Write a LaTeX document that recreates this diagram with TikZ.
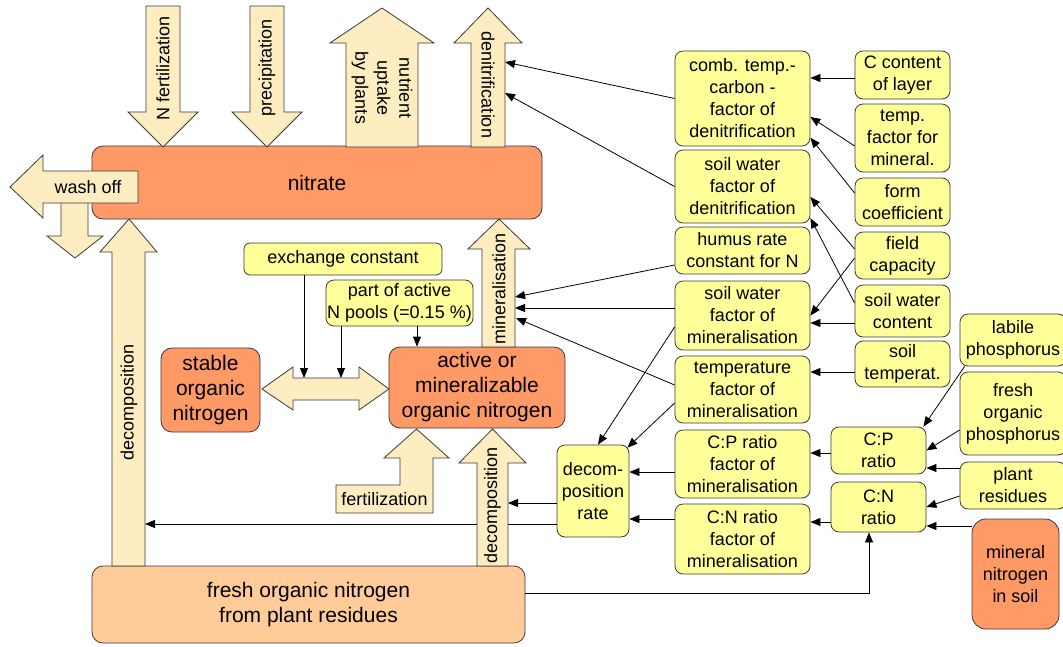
\documentclass[tikz,border=0pt]{standalone}
\usepackage{fontspec}
\setmainfont{Liberation Sans}
\usepackage{xcolor}
\usetikzlibrary{arrows.meta}
\definecolor{yfill}{HTML}{FFFF99}
\definecolor{ofill}{HTML}{FF9966}
\definecolor{ffill}{HTML}{FFCC99}
\definecolor{pfill}{HTML}{FFEDC2}
\definecolor{edge}{HTML}{3A3A3A}

\begin{document}
\begin{tikzpicture}[x=1pt,y=-1pt,
  ybox/.style={draw=edge,fill=yfill,rounded corners=8pt,align=center,inner sep=0pt,line width=0.8pt,font=\fontsize{18}{22}\selectfont},
  obox/.style={ybox,fill=ofill,rounded corners=11pt,font=\fontsize{21}{25}\selectfont},
  sz/.style 2 args={minimum width=#1pt,minimum height=#2pt},
  pipe/.style={draw=edge,fill=pfill,line width=0.8pt},
  ptxt/.style={align=center,inner sep=0pt,font=\fontsize{18}{22}\selectfont},
  arr/.style={-{Triangle[length=10pt,width=8pt]},line width=0.8pt}]
\useasboundingbox (0,0) rectangle (1063,646);
% pools
\node[obox,sz={450}{73}] (nit) at (317,182.5) {nitrate};
\node[obox,sz={99}{84}] (stab) at (210.5,390) {stable\\organic\\nitrogen};
\node[obox,sz={176}{81}] (act) at (477,387.5) {active or\\mineralizable\\organic nitrogen};
\node[obox,fill=ffill,sz={433}{77}] (fresh) at (308.5,604.5) {fresh organic nitrogen\\from plant residues};
\node[ybox,fill=ofill,rounded corners=14pt,sz={87}{110}] (minn) at (1015.5,574) {mineral\\nitrogen\\in soil};
% parameters
\node[ybox,rounded corners=6pt,sz={198}{32}] (exch) at (343,259) {exchange constant};
\node[ybox,sz={147}{46}] (part) at (399.5,303) {part of active\\N pools (=0.15 \%)};
\node[ybox,sz={72}{92}] (drate) at (593,491) {decom-\\position\\rate};
\node[ybox,sz={135}{95}] (comb) at (742.5,98.5) {comb. temp.-\\carbon -\\factor of\\denitrification};
\node[ybox,sz={135}{73}] (swfd) at (742.5,186.5) {soil water\\factor of\\denitrification};
\node[ybox,sz={135}{47}] (hum) at (742.5,250.5) {humus rate\\constant for N};
\node[ybox,sz={135}{69}] (swfm) at (742.5,315.5) {soil water\\factor of\\mineralisation};
\node[ybox,sz={135}{67}] (tfm) at (742.5,389.5) {temperature\\factor of\\mineralisation};
\node[ybox,sz={135}{68}] (cpf) at (742.5,464) {C:P ratio\\factor of\\mineralisation};
\node[ybox,sz={135}{70}] (cnf) at (742.5,539) {C:N ratio\\factor of\\mineralisation};
\node[ybox,sz={95}{48}] (ccl) at (902.5,75) {C content\\of layer};
\node[ybox,sz={95}{68}] (tfmin) at (902.5,138) {temp.\\factor for\\mineral.};
\node[ybox,sz={95}{48}] (form) at (902.5,202) {form\\coefficient};
\node[ybox,sz={95}{47}] (fcap) at (902.5,255.5) {field\\capacity};
\node[ybox,sz={95}{52}] (swc) at (902.5,311) {soil water\\content};
\node[ybox,sz={95}{46}] (stemp) at (902.5,364) {soil\\temperat.};
\node[ybox,sz={95}{47}] (cpr) at (878.5,450.5) {C:P\\ratio};
\node[ybox,sz={95}{50}] (cnr) at (878.5,507) {C:N\\ratio};
\node[ybox,sz={106}{52}] (lab) at (1013,340) {labile\\phosphorus};
\node[ybox,sz={106}{83}] (fop) at (1013,413.5) {fresh\\organic\\phosphorus};
\node[ybox,sz={106}{47}] (pres) at (1013,485.5) {plant\\residues};
% points on the flow arrows
\coordinate (dn1) at (505,62);
\coordinate (dn2) at (505,93);
\coordinate (mi1) at (515,297);
\coordinate (mi2) at (515,308);
\coordinate (mi3) at (516,318);
\coordinate (dl) at (145,524);
\coordinate (dr) at (508,503);
\coordinate (dtop) at (324,378);
% influences
\draw[arr] (comb.west) -- (dn1);
\draw[arr] (swfd.west) -- (dn2);
\draw[arr] ([yshift=-14.5pt]hum.west) -- (mi1);
\draw[arr] ([yshift=7.5pt]swfm.west) -- (mi2);
\draw[arr] ([yshift=4.5pt]tfm.west) -- (mi3);
\draw[arr] ([yshift=-11.5pt]swfm.west) -- ([xshift=5pt]drate.north);
\draw[arr] ([yshift=-13.5pt]tfm.west) -- ([shift={(-2pt,-3pt)}]drate.north east);
\draw[arr] ([yshift=-8pt]cpf.west) -- ([yshift=-8pt]cpf.west -| drate.east);
\draw[arr] ([yshift=20pt]cnf.west) -- ([yshift=20pt]cnf.west -| drate.east);
\draw[arr] ([yshift=-12pt]drate.west) -- (dr);
\draw[arr] ([yshift=-33pt]drate.west) -- (dl);
\draw[arr] ([yshift=-3pt]ccl.west) -- ([yshift=-3pt]ccl.west -| comb.east);
\draw[arr] ([yshift=-8pt]tfmin.west) -- ([yshift=-18.5pt]comb.east);
\draw[arr] ([yshift=9pt]form.west) -- (comb.-30);
\draw[arr] ([yshift=6.5pt]fcap.west) -- ([yshift=-10.5pt]swfd.east);
\draw[arr] ([yshift=8pt]swc.west) -- (swfd.-25);
\draw[arr] ([yshift=-2.5pt]fcap.west) -- (swfm.east);
\draw[arr] ([yshift=-12pt]swc.west) -- ([yshift=-12pt]swc.west -| swfm.east);
\draw[arr] ([yshift=-8pt]stemp.west) -- ([yshift=-8pt]stemp.west -| tfm.east);
\draw[arr] ([yshift=-2.5pt]cpr.west) -- ([yshift=-2.5pt]cpr.west -| cpf.east);
\draw[arr] ([yshift=-15pt]cnr.west) -- ([yshift=-15pt]cnr.west -| cnf.east);
\draw[arr] ([xshift=5pt]lab.south west) -- ([xshift=-3pt]cpr.north east);
\draw[arr] ([yshift=-16.5pt]fop.west) -- (cpr.east);
\draw[arr] ([yshift=17.5pt]pres.west) -- ([yshift=17.5pt]pres.west -| cpr.east);
\draw[arr] ([yshift=-10.5pt]pres.west) -- (cnr.east);
\draw[arr] ([yshift=48pt]minn.west) -- ([yshift=48pt]minn.west -| cnr.east);
\draw[arr] ([yshift=11.5pt]fresh.east) -| ([xshift=-9.5pt]cnr.south);
\draw[arr] ([xshift=-39pt]exch.south) -- ([xshift=-39pt]exch.south |- dtop);
\draw[arr] ([xshift=-58.5pt]part.south) -- ([xshift=-58.5pt]part.south |- dtop);
\draw[arr] ([xshift=17.5pt]part.south) -- ([xshift=17.5pt]part.south |- act.north);
% flow arrows
\draw[pipe] (146,6) -- (180,6) -- (180,112) -- (198,112) -- (163,147) -- (128,112) -- (146,112) -- cycle;
\draw[pipe] (250,6) -- (284,6) -- (284,112) -- (302,112) -- (267,147) -- (232,112) -- (250,112) -- cycle;
\draw[pipe] (346,147) -- (418,147) -- (418,43) -- (434,43) -- (382,8) -- (330,43) -- (346,43) -- cycle;
\draw[pipe] (471,147) -- (505,147) -- (505,43) -- (522,43) -- (488,8) -- (454,43) -- (471,43) -- cycle;
\draw[pipe] (61,200) -- (88,200) -- (88,236) -- (103,236) -- (75,258) -- (47,236) -- (61,236) -- cycle;
\draw[pipe] (10,187) -- (43,155) -- (43,171) -- (138,171) -- (138,203) -- (43,203) -- (43,218) -- cycle;
\draw[pipe] (112,566) -- (145,566) -- (145,252) -- (157,252) -- (129,219) -- (100,252) -- (112,252) -- cycle;
\draw[pipe] (482,347) -- (515,347) -- (515,249) -- (530,249) -- (499,219) -- (468,249) -- (482,249) -- cycle;
\draw[pipe] (477,566) -- (508,566) -- (508,463) -- (526,463) -- (492.5,429) -- (459,463) -- (477,463) -- cycle;
\draw[pipe] (336,485) -- (400,485) -- (400,458) -- (384,458) -- (416.5,429) -- (449,458) -- (433,458) -- (433,513) -- (336,513) -- cycle;
\draw[pipe] (262,389) -- (293,367) -- (293,378) -- (359,378) -- (359,367) -- (389,389) -- (359,410) -- (359,400) -- (293,400) -- (293,410) -- cycle;
\node[ptxt,rotate=90] (tnf) at (163,68) {N fertilization};
\node[ptxt,rotate=90] (tpr) at (267,68) {precipitation};
\node[ptxt,rotate=-90] (tnu) at (382,88) {nutrient\\uptake\\by plants};
\node[ptxt,rotate=-90] (tden) at (488,85) {denitrification};
\node[ptxt] (twash) at (88,187) {wash off};
\node[ptxt,rotate=90] (tdl) at (129,402) {decomposition};
\node[ptxt,rotate=90] (tmin) at (499,289) {mineralisation};
\node[ptxt,rotate=90] (tdr) at (492.5,505) {decomposition};
\node[ptxt] (tfert) at (384.5,499) {fertilization};
\end{tikzpicture}
\end{document}
